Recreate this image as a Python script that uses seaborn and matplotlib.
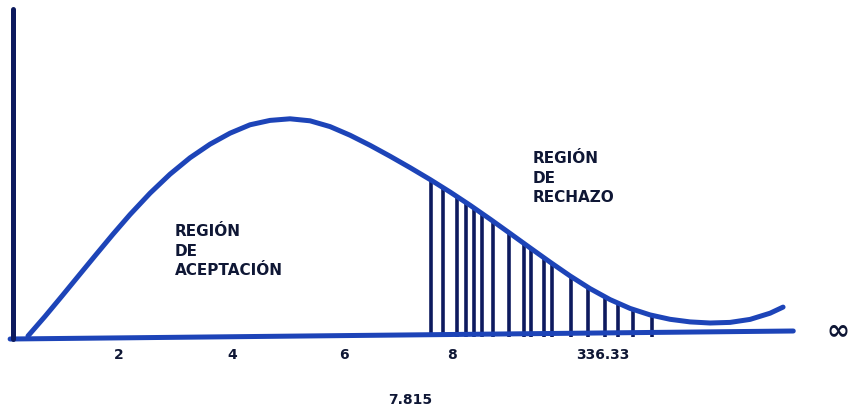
import numpy as np
import pandas as pd
import seaborn as sns
import matplotlib.pyplot as plt

# curve (x in chi-square units, y = density height)
curve_x = [0.342, 0.649, 0.955, 1.261, 1.568, 1.874, 2.180, 2.541, 2.901, 3.261,
           3.622, 3.982, 4.342, 4.703, 5.063, 5.423, 5.784, 6.144, 6.505, 6.865,
           7.225, 7.586, 7.946, 8.306, 8.667, 9.027, 9.387, 9.748, 10.108, 10.468,
           10.829, 11.189, 11.550, 11.910, 12.270, 12.631, 12.991, 13.351, 13.712, 13.946]
curve_y = [0.0010, 0.0206, 0.0410, 0.0617, 0.0824, 0.1028, 0.1224, 0.1438, 0.1628, 0.1792,
           0.1928, 0.2038, 0.2122, 0.2166, 0.2182, 0.2162, 0.2104, 0.2018, 0.1917, 0.1808,
           0.1694, 0.1575, 0.1450, 0.1318, 0.1179, 0.1036, 0.0892, 0.0749, 0.0611, 0.0484,
           0.0374, 0.0286, 0.0221, 0.0177, 0.0151, 0.0140, 0.0146, 0.0176, 0.0238, 0.0299]

# hatching in the rejection region
hatch_x = [7.60, 7.82, 8.07, 8.23, 8.38, 8.52, 8.72, 9.01, 9.28, 9.41, 9.64, 9.78,
           10.13, 10.43, 10.74, 10.97, 11.24, 11.59]
hatch_top = [0.156, 0.148, 0.140, 0.134, 0.128, 0.123, 0.115, 0.103, 0.093, 0.088,
             0.078, 0.073, 0.060, 0.049, 0.039, 0.033, 0.027, 0.021]

tick_pos = [1.98, 4.03, 6.04, 7.98, 10.70]
tick_labels = ['2', '4', '6', '8', '336.33']
critical_pos = 7.23
critical_label = '7.815'

x_axis_end = 14.13
y_axis_top = 0.328

sns.set_theme(style="white")
plt.rcParams['font.family'] = ['DejaVu Sans']

fig = plt.figure(figsize=(8.51, 4.14), dpi=100)
ax = fig.add_axes([0, 0, 1, 1])

navy = '#0d1a5e'
blue = '#1d44b8'
text_col = '#0f1735'

df = pd.DataFrame({'x': curve_x, 'y': curve_y})
sns.lineplot(data=df, x='x', y='y', ax=ax, color=blue, linewidth=3.6,
             solid_capstyle='round', solid_joinstyle='round', zorder=3)

ax.vlines(hatch_x, 0, hatch_top, color=navy, linewidth=2.6, zorder=2)

# axes drawn by hand (the horizontal one rises slightly to the right)
ax.plot([0.02, x_axis_end], [-0.002, 0.006], color=blue, linewidth=3.6,
        solid_capstyle='round', zorder=2)
ax.plot([0.07, 0.07], [-0.002, y_axis_top], color=navy, linewidth=3.6, zorder=2)

for p, lab in zip(tick_pos, tick_labels):
    ax.text(p, -0.017, lab, ha='center', va='center', fontsize=10, fontweight='bold', color=text_col)
ax.text(critical_pos, -0.062, critical_label, ha='center', va='center', fontsize=10,
        fontweight='bold', color=text_col)
ax.text(14.94, 0.008, '∞', ha='center', va='center', fontsize=20, fontweight='bold', color=text_col)

ax.text(2.99, 0.087, 'REGIÓN\nDE\nACEPTACIÓN', ha='left', va='center', fontsize=11,
        fontweight='bold', color=text_col, linespacing=1.38)
ax.text(9.44, 0.160, 'REGIÓN\nDE\nRECHAZO', ha='left', va='center', fontsize=11,
        fontweight='bold', color=text_col, linespacing=1.38)

ax.set_xlim(-0.162, 15.17)
ax.set_ylim(-0.076, 0.338)
ax.axis('off')

fig.savefig('out.png', dpi=100, facecolor='white')
